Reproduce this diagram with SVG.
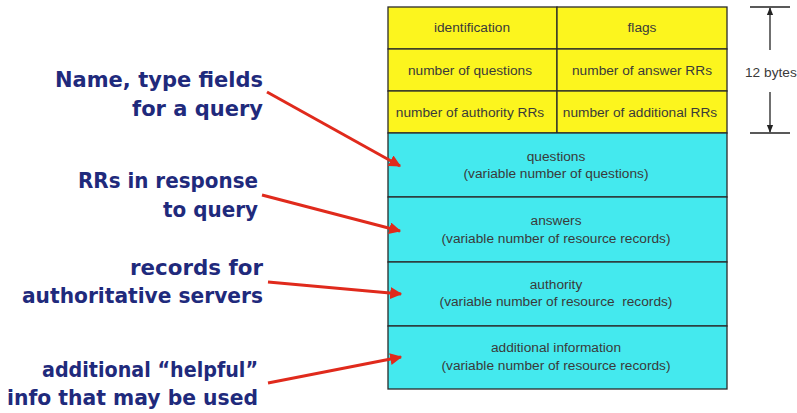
<svg xmlns="http://www.w3.org/2000/svg" width="797" height="413" viewBox="0 0 797 413">
<style>
.y{fill:#fcf51e;stroke:#2a2a2a;stroke-width:1.3}
.c{fill:#44e9ee;stroke:#2a2a2a;stroke-width:1.3}
.t{font-family:"Liberation Sans",Arial,sans-serif;font-size:13.7px;fill:#3a3a3a;text-anchor:middle}
.lbl{font-family:"DejaVu Sans",sans-serif;font-weight:bold;font-size:22px;fill:#1f2a7c;text-anchor:end}
.ar{stroke:#e02a1c;stroke-width:3;fill:none;marker-end:url(#ah)}
.dim{stroke:#222;stroke-width:1.3;fill:none}
</style>
<defs>
<marker id="ah" viewBox="0 0 10 10" refX="9" refY="5" markerWidth="4" markerHeight="4" orient="auto" markerUnits="strokeWidth">
<path d="M0,0 L10,5 L0,10 z" fill="#e02a1c"/>
</marker>
<marker id="bk" viewBox="0 0 10 10" refX="9" refY="5" markerWidth="8" markerHeight="8" orient="auto" markerUnits="userSpaceOnUse">
<path d="M0,1 L10,5 L0,9 z" fill="#222"/>
</marker>
</defs>
<rect width="797" height="413" fill="#fff"/>
<g id="identification"><rect class="y" x="388" y="7" width="169" height="42"/><text class="t" x="472" y="32">identification</text></g>
<g id="flags"><rect class="y" x="557" y="7" width="170" height="42"/><text class="t" x="642" y="32">flags</text></g>
<g id="num-questions"><rect class="y" x="388" y="49" width="169" height="42"/><text class="t" x="470" y="75">number of questions</text></g>
<g id="num-answer"><rect class="y" x="557" y="49" width="170" height="42"/><text class="t" x="642" y="75">number of answer RRs</text></g>
<g id="num-authority"><rect class="y" x="388" y="91" width="169" height="42"/><text class="t" x="470" y="117">number of authority RRs</text></g>
<g id="num-additional"><rect class="y" x="557" y="91" width="170" height="42"/><text class="t" x="640" y="117">number of additional RRs</text></g>
<g id="questions"><rect class="c" x="388" y="133" width="339" height="64"/><text class="t" x="556" y="161">questions</text><text class="t" x="556" y="178">(variable number of questions)</text></g>
<g id="answers"><rect class="c" x="388" y="197" width="339" height="65"/><text class="t" x="556" y="225">answers</text><text class="t" x="556" y="243">(variable number of resource records)</text></g>
<g id="authority"><rect class="c" x="388" y="262" width="339" height="64"/><text class="t" x="556" y="289">authority</text><text class="t" x="556" y="306" xml:space="preserve">(variable number of resource  records)</text></g>
<g id="additional"><rect class="c" x="388" y="326" width="339" height="63"/><text class="t" x="556" y="352">additional information</text><text class="t" x="556" y="370">(variable number of resource records)</text></g>
<g id="bytes">
<line class="dim" x1="750" y1="7" x2="790" y2="7"/>
<line class="dim" x1="750" y1="133" x2="790" y2="133"/>
<line class="dim" x1="770" y1="50" x2="770" y2="8" marker-end="url(#bk)"/>
<line class="dim" x1="770" y1="92" x2="770" y2="132" marker-end="url(#bk)"/>
<text x="745" y="77" style="font-family:'Liberation Sans',Arial,sans-serif;font-size:13.7px;fill:#3a3a3a">12 bytes</text>
</g>
<g id="label-query"><text class="lbl" x="263" y="87" textLength="208" lengthAdjust="spacingAndGlyphs">Name, type fields</text><text class="lbl" x="263" y="116" textLength="131" lengthAdjust="spacingAndGlyphs">for a query</text></g>
<g id="label-response"><text class="lbl" x="258" y="188" textLength="180" lengthAdjust="spacingAndGlyphs">RRs in response</text><text class="lbl" x="258" y="217" textLength="95" lengthAdjust="spacingAndGlyphs">to query</text></g>
<g id="label-authoritative"><text class="lbl" x="263" y="275" textLength="133" lengthAdjust="spacingAndGlyphs">records for</text><text class="lbl" x="263" y="303" textLength="241" lengthAdjust="spacingAndGlyphs">authoritative servers</text></g>
<g id="label-additional"><text class="lbl" x="258" y="377" textLength="216" lengthAdjust="spacingAndGlyphs">additional “helpful”</text><text class="lbl" x="258" y="405" textLength="251" lengthAdjust="spacingAndGlyphs">info that may be used</text></g>
<g id="connectors">
<line class="ar" x1="267" y1="92" x2="400" y2="166"/>
<line class="ar" x1="262" y1="195" x2="400" y2="231"/>
<line class="ar" x1="268" y1="282" x2="401" y2="294"/>
<line class="ar" x1="268" y1="383" x2="401" y2="357"/>
</g>
</svg>
